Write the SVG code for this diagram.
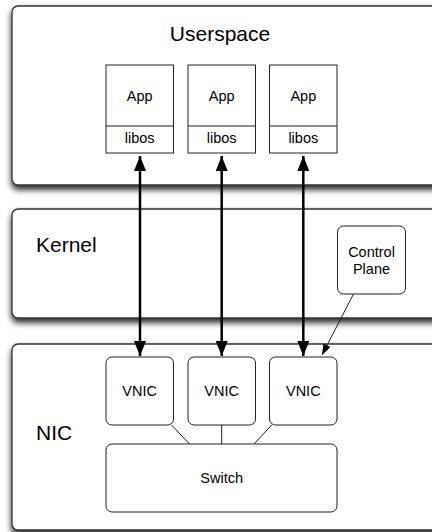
<svg xmlns="http://www.w3.org/2000/svg" width="432" height="532" viewBox="0 0 432 532">
  <style>
    text { font-family: "Liberation Sans", Arial, Helvetica, sans-serif; fill: #000; }
    .big { font-size: 21px; }
    .small { font-size: 14.5px; }
    .layer { fill: #fff; stroke: #333; stroke-width: 1.3; filter: url(#shadow); }
    .box { fill: #fff; stroke: #222; stroke-width: 1; }
    .thick { stroke: #000; stroke-width: 2.5; fill: none; marker-start: url(#bigHead); marker-end: url(#bigHead); }
    .thin { stroke: #222; stroke-width: 1; fill: none; }
  </style>
  <defs>
    <filter id="shadow" x="-10%" y="-10%" width="130%" height="140%">
      <feDropShadow dx="0" dy="4" stdDeviation="3" flood-color="#000" flood-opacity="0.85"/>
    </filter>
    <marker id="bigHead" viewBox="0 0 15 12" refX="15" refY="6" markerWidth="15" markerHeight="12" markerUnits="userSpaceOnUse" orient="auto-start-reverse">
      <path d="M0,0 L15,6 L0,12 z" fill="#000"/>
    </marker>
    <marker id="smallHead" viewBox="0 0 11 8" refX="11" refY="4" markerWidth="11" markerHeight="8" markerUnits="userSpaceOnUse" orient="auto">
      <path d="M0,0 L11,4 L0,8 z" fill="#000"/>
    </marker>
  </defs>

  <g id="userspace">
    <rect class="layer" x="12" y="6" width="440" height="179" rx="6"/>
    <text class="big" x="220" y="41" text-anchor="middle">Userspace</text>
  </g>
  <g id="kernel">
    <rect class="layer" x="12" y="209" width="440" height="109" rx="6"/>
    <text class="big" x="36" y="252">Kernel</text>
  </g>
  <g id="nic">
    <rect class="layer" x="12" y="344" width="440" height="186" rx="6"/>
    <text class="big" x="36" y="440">NIC</text>
  </g>

  <g id="app1">
    <rect class="box" x="106" y="65" width="67.5" height="88"/>
    <line class="thin" x1="106" y1="126" x2="173.5" y2="126"/>
    <text class="small" x="139.7" y="100.5" text-anchor="middle">App</text>
    <text class="small" x="139.7" y="143" text-anchor="middle">libos</text>
  </g>
  <g id="app2">
    <rect class="box" x="188" y="65" width="67.5" height="88"/>
    <line class="thin" x1="188" y1="126" x2="255.5" y2="126"/>
    <text class="small" x="221.7" y="100.5" text-anchor="middle">App</text>
    <text class="small" x="221.7" y="143" text-anchor="middle">libos</text>
  </g>
  <g id="app3">
    <rect class="box" x="269.5" y="65" width="67.5" height="88"/>
    <line class="thin" x1="269.5" y1="126" x2="337" y2="126"/>
    <text class="small" x="303.3" y="100.5" text-anchor="middle">App</text>
    <text class="small" x="303.3" y="143" text-anchor="middle">libos</text>
  </g>

  <g id="control-plane">
    <rect class="box" x="337.5" y="226" width="68" height="68" rx="6"/>
    <text class="small" x="371.5" y="256.5" text-anchor="middle">Control</text>
    <text class="small" x="371.5" y="273.5" text-anchor="middle">Plane</text>
  </g>

  <g id="vnic1">
    <rect class="box" x="106" y="357" width="67.5" height="68" rx="6"/>
    <text class="small" x="139.7" y="396" text-anchor="middle">VNIC</text>
  </g>
  <g id="vnic2">
    <rect class="box" x="188" y="357" width="67.5" height="68" rx="6"/>
    <text class="small" x="221.7" y="396" text-anchor="middle">VNIC</text>
  </g>
  <g id="vnic3">
    <rect class="box" x="269.5" y="357" width="67.5" height="68" rx="6"/>
    <text class="small" x="303.3" y="396" text-anchor="middle">VNIC</text>
  </g>
  <g id="switch">
    <rect class="box" x="106" y="444" width="231" height="68" rx="6"/>
    <text class="small" x="221.7" y="482.5" text-anchor="middle">Switch</text>
  </g>

  <g id="connectors">
    <line class="thick" x1="140" y1="156" x2="140" y2="356"/>
    <line class="thick" x1="221.7" y1="156" x2="221.7" y2="356"/>
    <line class="thick" x1="303.3" y1="156" x2="303.3" y2="356"/>
    <line class="thin" x1="353.5" y1="294" x2="322" y2="355" marker-end="url(#smallHead)"/>
    <line class="thin" x1="171.5" y1="425" x2="189.5" y2="444"/>
    <line class="thin" x1="221.7" y1="425" x2="221.7" y2="444"/>
    <line class="thin" x1="271.7" y1="425" x2="254" y2="444"/>
  </g>
</svg>
